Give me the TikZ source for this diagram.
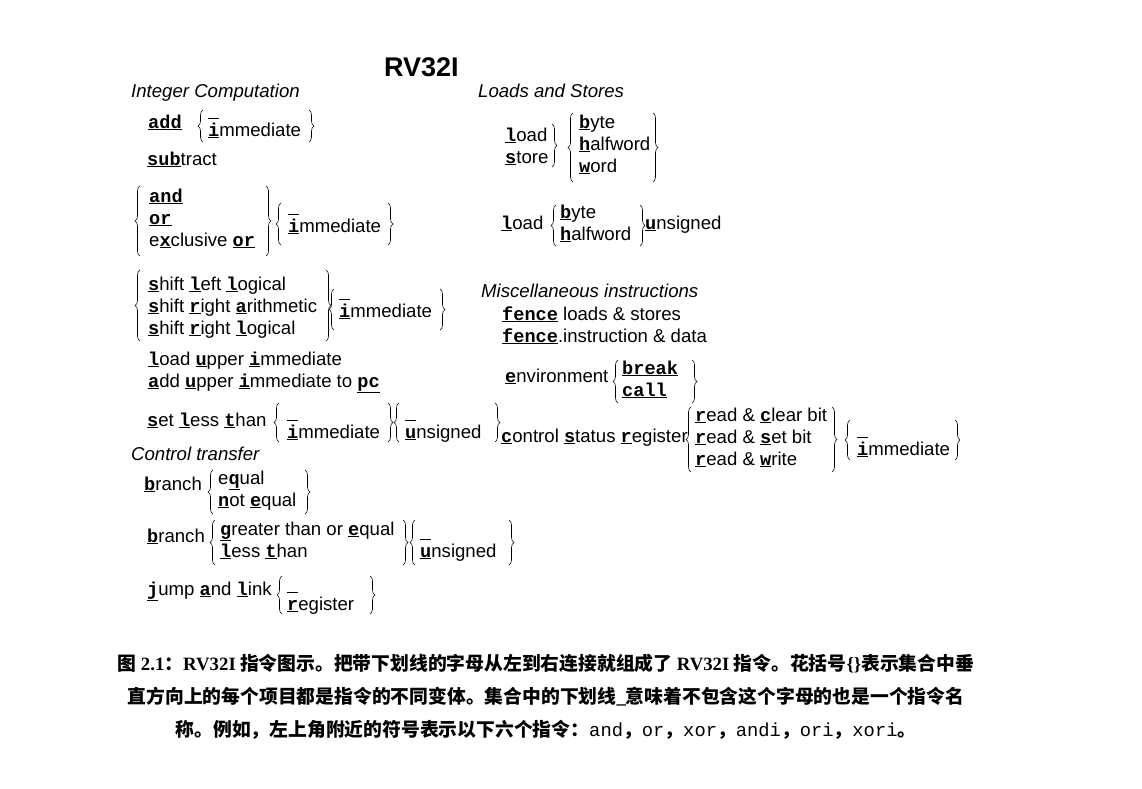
\documentclass[tikz,border=0pt]{standalone}
\usepackage{fontspec}
\setmainfont{Liberation Sans}
\setmonofont{Liberation Mono}
\newfontfamily\capser{Liberation Serif}
\newfontfamily\cjk{Noto Sans CJK SC}
\usetikzlibrary{decorations.pathreplacing}
\newcommand\um[1]{\underline{\texttt{\textbf{#1}}}}
\newcommand\blk{\underline{\texttt{\phantom{x}}}}
\newcommand\T[3]{\node[txt] (t-#1-#2) at (#1,#2) {#3};}
\newcommand\LB[3]{\draw[br] (#1,#3) -- (#1,#2);}
\newcommand\RB[3]{\draw[br] (#1,#2) -- (#1,#3);}
\tikzset{
 txt/.style={anchor=base west,inner sep=0pt,font=\fontsize{18.6}{20}\selectfont},
 hd/.style={txt,font=\fontsize{18.6}{20}\selectfont\itshape},
 br/.style={decorate,decoration={brace,amplitude=5pt,aspect=0.5},line width=0.6pt},
 captxt/.style={anchor=base,inner sep=0pt,font=\fontsize{18.8}{20}\selectfont\cjk\bfseries}
}
\begin{document}
\begin{tikzpicture}[x=1pt,y=-1pt]
\useasboundingbox (0,0) rectangle (1142,788);
\node[txt,font=\fontsize{27}{28}\selectfont\bfseries] (title) at (384,76) {RV32I};
\node[hd] (h1) at (131,97) {Integer Computation};
\node[hd] (h2) at (478,97) {Loads and Stores};
\node[hd] (h3) at (481,297) {Miscellaneous instructions};
\node[hd] (h4) at (131,460) {Control transfer};
% add
\T{148}{128}{\um{add}}
\LB{203}{110}{142}\RB{309}{110}{142}
\T{208}{117}{\blk}\T{208}{136}{\um{i}mmediate}
\T{147}{165}{\um{sub}tract}
% logic
\LB{140}{186}{256}\RB{266}{186}{256}
\T{149}{202}{\um{and}}\T{149}{224}{\um{or}}\T{149}{246}{e\um{x}clusive \um{or}}
\LB{281}{203}{245}\RB{388}{203}{245}
\T{288}{213}{\blk}\T{288}{232}{\um{i}mmediate}
% shift
\LB{140}{270}{341}\RB{326}{270}{341}
\T{148}{290}{\um{s}hift \um{l}eft \um{l}ogical}
\T{148}{312}{\um{s}hift \um{r}ight \um{a}rithmetic}
\T{148}{334}{\um{s}hift \um{r}ight \um{l}ogical}
\LB{334}{289}{330}\RB{440}{289}{330}
\T{339}{298}{\blk}\T{339}{317}{\um{i}mmediate}
% upper
\T{148}{365}{\um{l}oad \um{u}pper \um{i}mmediate}
\T{148}{387}{\um{a}dd \um{u}pper \um{i}mmediate to \um{pc}}
% slt
\T{147}{426}{\um{s}et \um{l}ess \um{t}han}
\LB{279}{403}{442}\RB{388}{403}{442}
\T{287}{419}{\blk}\T{287}{438}{\um{i}mmediate}
\LB{399}{403}{442}\RB{495}{403}{442}
\T{405}{419}{\blk}\T{405}{438}{\um{u}nsigned}
% branch
\T{144}{490}{\um{b}ranch}
\LB{213}{470}{514}\RB{305}{470}{514}
\T{218}{484}{e\um{q}ual}\T{218}{506}{\um{n}ot \um{e}qual}
\T{147}{542}{\um{b}ranch}
\LB{215}{520}{565}\RB{403}{520}{565}
\T{220}{535}{\um{g}reater than or \um{e}qual}\T{220}{557}{\um{l}ess \um{t}han}
\LB{415}{520}{565}\RB{509}{520}{565}
\T{420}{538}{\blk}\T{420}{557}{\um{u}nsigned}
\T{147}{595}{\um{j}ump \um{a}nd \um{l}ink}
\LB{282}{576}{614}\RB{370}{576}{614}
\T{287}{591}{\blk}\T{287}{610}{\um{r}egister}
% loads/stores
\T{505}{141}{\um{l}oad}\T{505}{163}{\um{s}tore}
\RB{552}{124}{167}
\LB{573}{113}{182}\RB{653}{113}{182}
\T{579}{128}{\um{b}yte}\T{579}{150}{\um{h}alfword}\T{579}{172}{\um{w}ord}
\T{501}{229}{\um{l}oad}
\LB{556}{205}{246}\RB{640}{205}{246}
\T{560}{218}{\um{b}yte}\T{560}{240}{\um{h}alfword}
\T{645}{229}{\um{u}nsigned}
% misc
\T{502}{320}{\um{fence} loads \& stores}
\T{502}{342}{\um{fence}.instruction \& data}
\T{505}{382}{\um{e}nvironment}
\LB{618}{360}{403}\RB{692}{360}{403}
\T{622}{374}{\um{break}}\T{622}{396}{\um{call}}
\T{501}{442}{\um{c}ontrol \um{s}tatus \um{r}egister}
\LB{691}{407}{472}\RB{832}{407}{472}
\T{695}{421}{\um{r}ead \& \um{c}lear bit}
\T{695}{443}{\um{r}ead \& \um{s}et bit}
\T{695}{465}{\um{r}ead \& \um{w}rite}
\LB{850}{420}{460}\RB{955}{420}{460}
\T{857}{436}{\blk}\T{857}{455}{\um{i}mmediate}
% caption
\node[captxt] (c1) at (546,670) {图 {\capser\bfseries 2.1}：{\capser\bfseries RV32I} 指令图示。把带下划线的字母从左到右连接就组成了 {\capser\bfseries RV32I} 指令。花括号{\capser\bfseries\{\}}表示集合中垂};
\node[captxt] (c2) at (546,703) {直方向上的每个项目都是指令的不同变体。集合中的下划线{\capser\bfseries\_}意味着不包含这个字母的也是一个指令名};
\node[captxt] (c3) at (546,736) {称。例如，左上角附近的符号表示以下六个指令：{\mdseries\ttfamily and}，{\mdseries\ttfamily or}，{\mdseries\ttfamily xor}，{\mdseries\ttfamily andi}，{\mdseries\ttfamily ori}，{\mdseries\ttfamily xori}。};
\end{tikzpicture}
\end{document}
